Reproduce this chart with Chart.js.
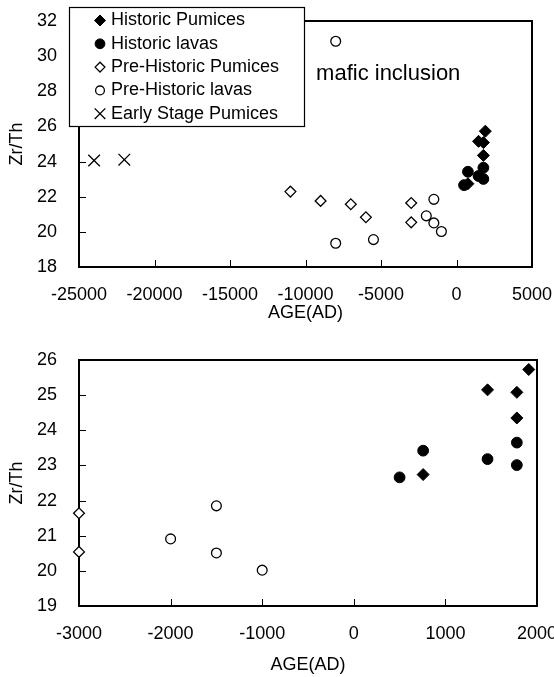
<!DOCTYPE html>
<html>
<head>
<meta charset="utf-8">
<script src="https://cdn.jsdelivr.net/npm/chart.js@4.4.1/dist/chart.umd.min.js"></script>
<style>
  html, body { margin: 0; padding: 0; background: #fff; width: 554px; height: 677px; overflow: hidden; }
  canvas { position: absolute; left: 0; }
  #topChart { top: 0; }
  #bottomChart { top: 330px; }
</style>
</head>
<body>
<canvas id="topChart" width="600" height="330"></canvas>
<canvas id="bottomChart" width="600" height="347"></canvas>
<script>
/* data: age (AD) vs Zr/Th */
const histPumAge   = [1910, 1460, 1780, 1780, 757];
const histPumZrTh  = [25.73, 25.15, 25.08, 24.35, 22.74];
const histLavaAge  = [500, 757, 1460, 1780, 1780];
const histLavaZrTh = [22.66, 23.42, 23.18, 23.65, 23.01];
const prePumAge    = [-11000, -9000, -7000, -6000, -3000, -3000];
const prePumZrTh   = [22.29, 21.76, 21.57, 20.83, 21.64, 20.54];
const preLavaAge   = [-8000, -8000, -5500, -2000, -1500, -1500, -1000];
const preLavaZrTh  = [30.85, 19.35, 19.56, 20.91, 21.85, 20.51, 20.02];
const earlyPumAge  = [-24000, -22000];
const earlyPumZrTh = [24.06, 24.11];

const seriesLabels = ["Historic Pumices", "Historic lavas", "Pre-Historic Pumices", "Pre-Historic lavas", "Early Stage Pumices"];
const noteText = "mafic inclusion";
const noteAge = -9300, noteZrTh = 29;

Chart.defaults.font.family = '"Liberation Sans", Arial, sans-serif';
Chart.defaults.font.size = 18;
Chart.defaults.color = "#000";

function pts(xs, ys){
  return xs.map((x, i) => ({x: x, y: ys[i]}));
}

function makeDatasets(){
  return [
    { label: seriesLabels[0], data: pts(histPumAge, histPumZrTh), pointStyle: "rectRot", pointRadius: 6,
      backgroundColor: "#000", borderColor: "#000", borderWidth: 1, clip: 10 },
    { label: seriesLabels[1], data: pts(histLavaAge, histLavaZrTh), pointStyle: "circle", pointRadius: 5.4,
      backgroundColor: "#000", borderColor: "#000", borderWidth: 1, clip: 10 },
    { label: seriesLabels[2], data: pts(prePumAge, prePumZrTh), pointStyle: "rectRot", pointRadius: 5.4,
      backgroundColor: "#fff", borderColor: "#000", borderWidth: 1.3, clip: 10 },
    { label: seriesLabels[3], data: pts(preLavaAge, preLavaZrTh), pointStyle: "circle", pointRadius: 4.9,
      backgroundColor: "#fff", borderColor: "#000", borderWidth: 1.3, clip: 10 },
    { label: seriesLabels[4], data: pts(earlyPumAge, earlyPumZrTh), pointStyle: "crossRot", pointRadius: 8.2,
      backgroundColor: "#fff", borderColor: "#000", borderWidth: 1.3, clip: 10 }
  ];
}

// tick marks are hidden here and drawn inward by the frame plugin
function makeScales(o){
  return {
    x: {
      type: "linear", min: o.xMin, max: o.xMax,
      ticks: { stepSize: o.xStep, padding: 0, autoSkip: false, maxRotation: 0, callback: v => String(v) },
      grid: { drawOnChartArea: false, drawTicks: true, tickLength: 17, tickColor: "rgba(0,0,0,0)" },
      border: { display: false },
      title: { display: true, text: "AGE(AD)", padding: { top: 0, bottom: o.xTitlePad } },
      afterFit: s => { s.height = o.xHeight; }
    },
    y: {
      type: "linear", min: o.yMin, max: o.yMax,
      ticks: { stepSize: o.yStep, padding: 0, autoSkip: false, callback: v => String(v) },
      grid: { drawOnChartArea: false, drawTicks: true, tickLength: 22, tickColor: "rgba(0,0,0,0)" },
      border: { display: false },
      title: { display: true, text: "Zr/Th", padding: { top: 6, bottom: 0 } },
      afterFit: s => { s.width = 79; }
    }
  };
}

/* box round the plot area + inward ticks, under the points */
const frame = {
  id: "frame",
  beforeDatasetsDraw(chart){
    const {ctx, chartArea: a, scales} = chart;
    ctx.save();
    ctx.strokeStyle = "#000";
    ctx.lineWidth = 1;
    ctx.beginPath();
    scales.x.ticks.forEach(t => {
      const px = Math.round(scales.x.getPixelForValue(t.value)) + 0.5;
      ctx.moveTo(px, a.bottom);
      ctx.lineTo(px, a.bottom - 7);
    });
    scales.y.ticks.forEach(t => {
      const py = Math.round(scales.y.getPixelForValue(t.value)) + 0.5;
      ctx.moveTo(a.left, py);
      ctx.lineTo(a.left + 7, py);
    });
    ctx.stroke();
    ctx.lineWidth = 2;
    ctx.strokeRect(a.left, a.top, a.right - a.left, a.bottom - a.top);
    ctx.restore();
  }
};

/* text note inside the top plot */
const note = {
  id: "note",
  afterDatasetsDraw(chart){
    const {ctx, scales} = chart;
    ctx.save();
    ctx.fillStyle = "#000";
    ctx.font = '22px "Liberation Sans", Arial, sans-serif';
    ctx.textAlign = "left";
    ctx.textBaseline = "middle";
    ctx.fillText(noteText, scales.x.getPixelForValue(noteAge), scales.y.getPixelForValue(noteZrTh));
    ctx.restore();
  }
};

/* white boxed legend overlapping the top-left corner */
const boxLegend = {
  id: "boxLegend",
  afterDraw(chart){
    const {ctx, chartArea: a} = chart;
    const bx = a.left - 10, by = a.top - 14, bw = 235, bh = 119;
    ctx.save();
    ctx.fillStyle = "#fff";
    ctx.fillRect(bx, by, bw, bh);
    ctx.strokeStyle = "#000";
    ctx.lineWidth = 1.2;
    ctx.strokeRect(bx + 0.5, by + 0.5, bw, bh);
    chart.data.datasets.forEach((ds, i) => {
      const y = by + 13.5 + i * 23.3;
      ctx.fillStyle = ds.backgroundColor;
      ctx.strokeStyle = ds.borderColor;
      ctx.lineWidth = ds.borderWidth;
      Chart.helpers.drawPoint(ctx, {
        pointStyle: ds.pointStyle, radius: ds.pointStyle === "crossRot" ? 7.5 : ds.pointRadius - 0.5,
        borderWidth: ds.borderWidth, rotation: 0
      }, bx + 31, y);
      ctx.fillStyle = "#000";
      ctx.font = '18px "Liberation Sans", Arial, sans-serif';
      ctx.textAlign = "left";
      ctx.textBaseline = "middle";
      ctx.fillText(ds.label, bx + 42, y);
    });
    ctx.restore();
  }
};

const common = {
  responsive: false,
  animation: false,
  events: [],
  plugins: { legend: { display: false }, tooltip: { enabled: false } }
};

new Chart(document.getElementById("topChart"), {
  type: "scatter",
  data: { datasets: makeDatasets() },
  options: Object.assign({}, common, {
    layout: { padding: { top: 21, right: 68, left: 0, bottom: 0 } },
    scales: makeScales({ xMin: -25000, xMax: 5000, xStep: 5000, yMin: 18, yMax: 32, yStep: 2, xTitlePad: 6, xHeight: 63 })
  }),
  plugins: [frame, note, boxLegend]
});

new Chart(document.getElementById("bottomChart"), {
  type: "scatter",
  data: { datasets: makeDatasets() },
  options: Object.assign({}, common, {
    layout: { padding: { top: 30, right: 63, left: 0, bottom: 0 } },
    scales: makeScales({ xMin: -3000, xMax: 2000, xStep: 1000, yMin: 19, yMax: 26, yStep: 1, xTitlePad: 1, xHeight: 71 })
  }),
  plugins: [frame]
});
</script>
</body>
</html>
